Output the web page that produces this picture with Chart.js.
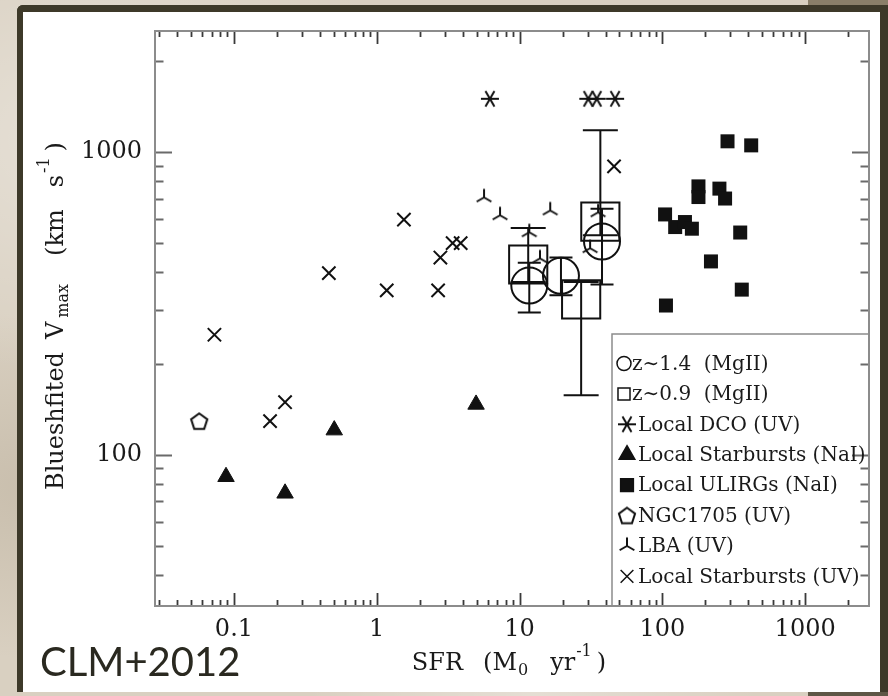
<!DOCTYPE html>
<html>
<head>
<meta charset="utf-8">
<script src="https://cdn.jsdelivr.net/npm/chart.js@4.4.1/dist/chart.umd.min.js"></script>
<style>
  html, body { margin: 0; padding: 0; }
  body {
    width: 888px; height: 696px; overflow: hidden; position: relative;
    background-color: #d9d0c1;
    background-image:
      radial-gradient(ellipse at 10% 20%, rgba(255,255,255,0.35), transparent 30%),
      radial-gradient(ellipse at 5% 70%, rgba(150,135,110,0.25), transparent 25%),
      radial-gradient(ellipse at 60% 100%, rgba(255,255,255,0.3), transparent 30%);
  }
  #panel {
    position: absolute; left: 17px; top: 5px; width: 871px; height: 687px;
    box-sizing: border-box; background: #fff;
    border-left: 6px solid #3d3929; border-top: 7px solid #3d3929; border-right: 8px solid #3d3929;
    border-top-left-radius: 6px;
  }
  #strip { position: absolute; left: 808px; top: 0; width: 80px; height: 5px; background: #8a7f69; }
  #shade { position: absolute; left: 808px; top: 692px; width: 80px; height: 4px; background: #5e5746; }
  #chart { position: absolute; left: 0; top: 0; }
  #credit {
    position: absolute; left: 40px; top: 641px;
    font-family: Lato, "Open Sans", sans-serif; font-size: 40px; line-height: 1; color: #2a2920;
  }
</style>
</head>
<body>
<div id="strip"></div>
<div id="panel"></div>
<div id="shade"></div>
<canvas id="chart" width="888" height="696"></canvas>
<div id="credit">CLM+2012</div>

<script>
// axis ranges and labelled ticks
const xRange = [0.028, 2800];
const yRange = [31.6, 2512];
const xTickLabels = [0.1, 1, 10, 100, 1000];
const yTickLabels = [100, 1000];

// z~1.4 (MgII) stacks, with error bars
const z14X = [11.7, 19.5, 37.8];
const z14Y = [362, 390, 506];
const z14Lo = [295, 336, 365];
const z14Hi = [431, 448, 650];

// z~0.9 (MgII) stacks, with error bars
const z09X = [11.5, 27.0, 36.8];
const z09Y = [425, 326, 589];
const z09Lo = [372, 157, 531];
const z09Hi = [561, 372, 1180];

// Local DCO (UV)
const dcoX = [6.2, 30.3, 34.7, 46.7];
const dcoY = [1500, 1500, 1500, 1500];

// Local Starbursts (NaI)
const sbNaX = [0.088, 0.228, 0.504, 4.96];
const sbNaY = [84.5, 74.5, 120.5, 146.5];

// Local ULIRGs (NaI)
const ulirgX = [286, 419, 179, 179, 251, 275, 104.5, 123, 144, 161, 351, 219, 360, 106];
const ulirgY = [1085, 1052, 770, 710, 757, 702, 622, 565, 587, 558, 542, 435, 351, 311];

// NGC1705 (UV)
const ngcX = [0.0571];
const ngcY = [129];

// LBA (UV)
const lbaX = [5.64, 7.3, 16.4, 11.7, 35.5, 13.9, 31.2];
const lbaY = [708, 618, 641, 543, 632, 445, 481];

// Local Starbursts (UV)
const sbUvX = [0.073, 0.179, 0.228, 0.462, 1.175, 1.55, 2.69, 2.79, 3.40, 3.87, 45.9];
const sbUvY = [249, 129, 149, 398, 349, 598, 349, 448, 500, 500, 897];

const INK = '#111';
const SERIF = '"DejaVu Serif", serif';

function pts(xs, ys) {
  return xs.map((x, i) => ({ x: x, y: ys[i] }));
}

// small canvases for the symbols Chart.js has no style for
function makeMarker(size, draw) {
  const c = document.createElement('canvas');
  c.width = size; c.height = size;
  const g = c.getContext('2d');
  g.strokeStyle = INK; g.lineWidth = 2; g.lineCap = 'butt';
  g.translate(size / 2, size / 2);
  draw(g);
  return c;
}

const dcoMarker = makeMarker(24, g => {
  g.beginPath();
  for (let k = 0; k < 3; k++) {
    const a = k * Math.PI / 3;
    g.moveTo(-9 * Math.cos(a), -9 * Math.sin(a));
    g.lineTo(9 * Math.cos(a), 9 * Math.sin(a));
  }
  g.stroke();
});

const lbaMarker = makeMarker(24, g => {
  g.beginPath();
  [-90, 30, 150].forEach(d => {
    const a = d * Math.PI / 180;
    g.moveTo(0, 0);
    g.lineTo(8.5 * Math.cos(a), 8.5 * Math.sin(a));
  });
  g.stroke();
});

const pentagonMarker = makeMarker(24, g => {
  g.beginPath();
  for (let k = 0; k < 5; k++) {
    const a = -Math.PI / 2 + k * 2 * Math.PI / 5;
    const px = 8.5 * Math.cos(a), py = 8.5 * Math.sin(a) + 0.8;
    if (k === 0) g.moveTo(px, py); else g.lineTo(px, py);
  }
  g.closePath();
  g.stroke();
});

const datasets = [
  { label: 'z\u223C1.4  (MgII)', data: pts(z14X, z14Y), pointStyle: 'circle', pointRadius: 18,
    borderColor: INK, backgroundColor: 'rgba(0,0,0,0)', borderWidth: 2,
    legendStyle: { pointStyle: 'circle', radius: 7, fill: false } },
  { label: 'z\u223C0.9  (MgII)', data: pts(z09X, z09Y), pointStyle: 'rect', pointRadius: 27,
    borderColor: INK, backgroundColor: 'rgba(0,0,0,0)', borderWidth: 2,
    legendStyle: { pointStyle: 'rect', radius: 8.5, fill: false, lineWidth: 1.5 } },
  { label: 'Local DCO (UV)', data: pts(dcoX, dcoY), pointStyle: dcoMarker, pointRadius: 9,
    borderColor: INK, backgroundColor: INK,
    legendStyle: { pointStyle: dcoMarker } },
  { label: 'Local Starbursts (NaI)', data: pts(sbNaX, sbNaY), pointStyle: 'triangle', pointRadius: 9.5,
    borderColor: INK, backgroundColor: INK, borderWidth: 1,
    legendStyle: { pointStyle: 'triangle', radius: 9, fill: true } },
  { label: 'Local ULIRGs (NaI)', data: pts(ulirgX, ulirgY), pointStyle: 'rect', pointRadius: 9.9,
    borderColor: INK, backgroundColor: INK, borderWidth: 0,
    legendStyle: { pointStyle: 'rect', radius: 9, fill: true } },
  { label: 'NGC1705 (UV)', data: pts(ngcX, ngcY), pointStyle: pentagonMarker, pointRadius: 9,
    borderColor: INK, backgroundColor: 'rgba(0,0,0,0)',
    legendStyle: { pointStyle: pentagonMarker } },
  { label: 'LBA (UV)', data: pts(lbaX, lbaY), pointStyle: lbaMarker, pointRadius: 9,
    borderColor: INK, backgroundColor: INK,
    legendStyle: { pointStyle: lbaMarker } },
  { label: 'Local Starbursts (UV)', data: pts(sbUvX, sbUvY), pointStyle: 'crossRot', pointRadius: 9.4,
    borderColor: INK, backgroundColor: INK, borderWidth: 2,
    legendStyle: { pointStyle: 'crossRot', radius: 9, fill: false, lineWidth: 1.5 } }
];

const errorSets = [
  { x: z14X, lo: z14Lo, hi: z14Hi, cap: 11.5 },
  { x: z09X, lo: z09Lo, hi: z09Hi, cap: 17.5 }
];

// error bars drawn through the library's scales
const errorBarPlugin = {
  id: 'errorBars',
  afterDatasetsDraw(chart) {
    const { ctx, scales: { x, y } } = chart;
    ctx.save();
    ctx.strokeStyle = INK;
    ctx.lineWidth = 2;
    errorSets.forEach(set => {
      set.x.forEach((xv, i) => {
        const px = x.getPixelForValue(xv);
        const top = y.getPixelForValue(set.hi[i]);
        const bot = y.getPixelForValue(set.lo[i]);
        ctx.beginPath();
        ctx.moveTo(px, top); ctx.lineTo(px, bot);
        ctx.moveTo(px - set.cap, top); ctx.lineTo(px + set.cap, top);
        ctx.moveTo(px - set.cap, bot); ctx.lineTo(px + set.cap, bot);
        ctx.stroke();
      });
    });
    ctx.restore();
  }
};

function decadeTicks(range) {
  const out = [];
  const lo = Math.floor(Math.log10(range[0])), hi = Math.ceil(Math.log10(range[1]));
  for (let e = lo; e <= hi; e++) {
    for (let m = 1; m <= 9; m++) {
      const v = m * Math.pow(10, e);
      if (v >= range[0] && v <= range[1]) out.push({ v: v, major: m === 1 });
    }
  }
  return out;
}

// box frame with inward ticks on all four sides
const framePlugin = {
  id: 'frame',
  afterDraw(chart) {
    const { ctx, chartArea: a, scales: { x, y } } = chart;
    ctx.save();
    ctx.lineWidth = 1.8;
    ctx.strokeStyle = '#3a3a3a';
    ctx.beginPath();
    decadeTicks(xRange).forEach(t => {
      const px = Math.round(x.getPixelForValue(t.v)) + 0.5;
      const len = t.major ? 13 : 6;
      ctx.moveTo(px, a.bottom); ctx.lineTo(px, a.bottom - len);
      ctx.moveTo(px, a.top); ctx.lineTo(px, a.top + len);
    });
    ctx.stroke();
    ctx.strokeStyle = '#6a6a6a';
    ctx.beginPath();
    decadeTicks(yRange).forEach(t => {
      const py = Math.round(y.getPixelForValue(t.v)) + 0.5;
      const len = t.major ? 17 : 8.5;
      ctx.moveTo(a.left, py); ctx.lineTo(a.left + len, py);
      ctx.moveTo(a.right, py); ctx.lineTo(a.right - len, py);
    });
    ctx.stroke();
    ctx.strokeStyle = '#8c8c8c';
    ctx.lineWidth = 2;
    ctx.strokeRect(a.left, a.top, a.right - a.left, a.bottom - a.top);
    ctx.restore();
  }
};

// legend box in the lower right corner of the plot
const legendPlugin = {
  id: 'boxLegend',
  afterDraw(chart) {
    const { ctx, chartArea: a } = chart;
    const left = 612, top = 334, row0 = 363.5, step = 30.4;
    ctx.save();
    ctx.strokeStyle = '#8c8c8c';
    ctx.lineWidth = 1.5;
    ctx.beginPath();
    ctx.moveTo(left, a.bottom); ctx.lineTo(left, top); ctx.lineTo(a.right, top);
    ctx.stroke();
    ctx.font = '20px ' + SERIF;
    ctx.textBaseline = 'middle';
    ctx.fillStyle = '#1a1a1a';
    chart.data.datasets.forEach((ds, i) => {
      const cy = row0 + i * step;
      const st = ds.legendStyle;
      const cx = i < 2 ? 624 : 627;
      ctx.save();
      ctx.strokeStyle = INK;
      ctx.fillStyle = st.fill === false ? 'rgba(0,0,0,0)' : INK;
      ctx.lineWidth = st.lineWidth || 1.5;
      Chart.helpers.drawPoint(ctx, { pointStyle: st.pointStyle, radius: st.radius || 9, rotation: 0, borderWidth: ctx.lineWidth }, cx, cy);
      ctx.restore();
      ctx.fillText(ds.label, i < 2 ? 632 : 638, cy + 1);
    });
    ctx.restore();
  }
};

// axis titles with sub- and superscripts; gap = extra space after a part
function drawRich(ctx, parts, size) {
  const fontFor = p => (p.sub || p.sup ? Math.round(size * 0.68) : size) + 'px ' + SERIF;
  const widths = parts.map(p => { ctx.font = fontFor(p); return ctx.measureText(p.t).width + (p.gap || 0); });
  const total = widths.reduce((s, w) => s + w, 0);
  let cx = -total / 2;
  parts.forEach((p, i) => {
    ctx.font = fontFor(p);
    const dy = p.sub ? size * 0.3 : p.sup ? -size * 0.5 : 0;
    ctx.fillText(p.t, cx, dy);
    cx += widths[i];
  });
}

const xTitle = [{ t: 'SFR', gap: 20 }, { t: '(M', gap: 1 }, { t: '0', sub: true, gap: 22 }, { t: 'yr', gap: 1 }, { t: '-1', sup: true, gap: 5 }, { t: ')' }];
const yTitle = [{ t: 'Blueshfited', gap: 13 }, { t: 'V', gap: 4 }, { t: 'max', sub: true, gap: 28 }, { t: '(km', gap: 22 }, { t: 's', gap: 2 }, { t: '-1', sup: true, gap: 6 }, { t: ')' }];

const titlePlugin = {
  id: 'axisTitles',
  afterDraw(chart) {
    const { ctx } = chart;
    ctx.save();
    ctx.fillStyle = '#1a1a1a';
    ctx.textBaseline = 'middle';
    ctx.textAlign = 'left';
    ctx.save();
    ctx.translate(509, 664);
    drawRich(ctx, xTitle, 24);
    ctx.restore();
    ctx.save();
    ctx.translate(57, 316);
    ctx.rotate(-Math.PI / 2);
    drawRich(ctx, yTitle, 24);
    ctx.restore();
    ctx.restore();
  }
};

new Chart(document.getElementById('chart').getContext('2d'), {
  type: 'scatter',
  data: { datasets: datasets },
  options: {
    responsive: false,
    animation: false,
    layout: { autoPadding: false, padding: { top: 31, right: 19, left: 0, bottom: 0 } },
    plugins: { legend: { display: false }, tooltip: { enabled: false } },
    scales: {
      x: {
        type: 'logarithmic', min: xRange[0], max: xRange[1],
        grid: { display: false, drawTicks: false }, border: { display: false },
        afterBuildTicks: s => { s.ticks = xTickLabels.map(v => ({ value: v })); },
        afterFit: s => { s.height = 90; s.paddingLeft = 0; s.paddingRight = 0; },
        ticks: { padding: 9, color: '#1a1a1a', font: { family: 'DejaVu Serif', size: 24 },
                 autoSkip: false, maxRotation: 0, callback: v => String(v) }
      },
      y: {
        type: 'logarithmic', min: yRange[0], max: yRange[1],
        grid: { display: false, drawTicks: false }, border: { display: false },
        afterBuildTicks: s => { s.ticks = yTickLabels.map(v => ({ value: v })); },
        afterFit: s => { s.width = 155; s.paddingTop = 0; s.paddingBottom = 0; },
        ticks: { padding: 13, color: '#1a1a1a', font: { family: 'DejaVu Serif', size: 24 },
                 autoSkip: false, callback: v => String(v) }
      }
    }
  },
  plugins: [errorBarPlugin, framePlugin, legendPlugin, titlePlugin]
});
</script>
</body>
</html>
